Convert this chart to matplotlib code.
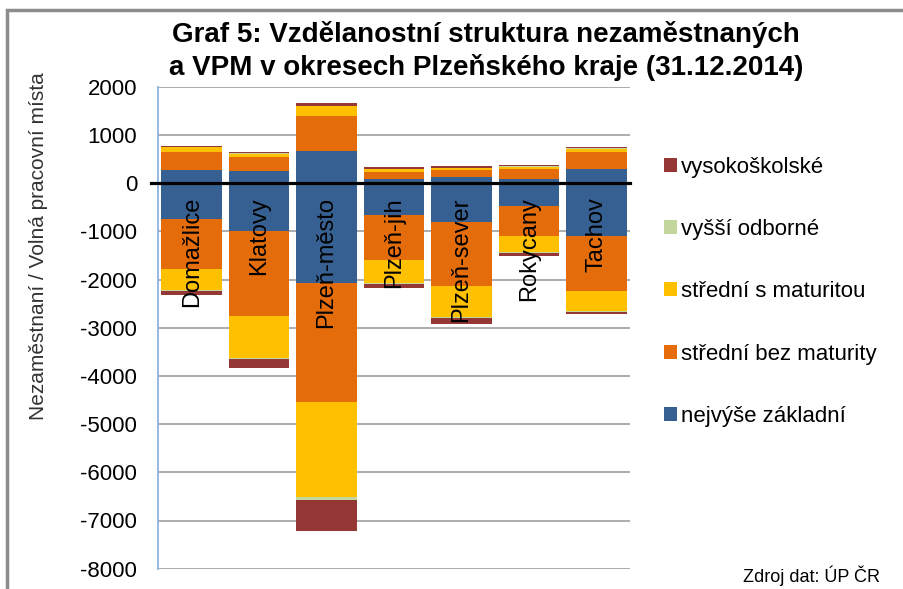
import numpy as np
import matplotlib
matplotlib.use('Agg')
import matplotlib.pyplot as plt
from matplotlib.patches import Rectangle, Patch

plt.rcParams['font.family'] = ['Liberation Sans', 'DejaVu Sans']

categories = ['Domažlice', 'Klatovy', 'Plzeň-město', 'Plzeň-jih', 'Plzeň-sever', 'Rokycany', 'Tachov']
levels = ['nejvýše základní', 'střední bez maturity', 'střední s maturitou', 'vyšší odborné', 'vysokoškolské']
colors = ['#376092', '#E46C0A', '#FFC000', '#C3D69B', '#953735']

# volná pracovní místa (kladné hodnoty)
vpm_zakladni = [276, 248, 674, 83, 117, 83, 296]
vpm_bez_mat = [378, 288, 715, 138, 159, 213, 343]
vpm_s_mat = [88, 76, 206, 68, 41, 48, 76]
vpm_vyssi = [5, 3, 10, 3, 3, 3, 3]
vpm_vs = [30, 39, 52, 38, 38, 31, 32]

# nezaměstnaní (vykresleno jako záporné hodnoty)
nez_zakladni = [755, 990, 2074, 652, 804, 467, 1093]
nez_bez_mat = [1031, 1773, 2462, 948, 1326, 626, 1140]
nez_s_mat = [426, 858, 1971, 474, 654, 343, 427]
nez_vyssi = [28, 20, 70, 10, 15, 8, 8]
nez_vs = [75, 186, 631, 93, 114, 74, 39]

yticks = list(range(-8000, 2001, 1000))

vpm = [vpm_zakladni, vpm_bez_mat, vpm_s_mat, vpm_vyssi, vpm_vs]
nez = [nez_zakladni, nez_bez_mat, nez_s_mat, nez_vyssi, nez_vs]

W, H = 904, 589
fig = plt.figure(figsize=(W / 100, H / 100), dpi=100)
ax = fig.add_axes([158 / W, 1 - 568.7 / H, 472 / W, (568.7 - 86.7) / H])

x = np.arange(len(categories))
pos_bottom = np.zeros(len(categories))
neg_bottom = np.zeros(len(categories))
for i in range(len(levels)):
    p = np.array(vpm[i], dtype=float)
    n = np.array(nez[i], dtype=float)
    ax.bar(x, p, 0.9, bottom=pos_bottom, color=colors[i], linewidth=0, zorder=2)
    ax.bar(x, -n, 0.9, bottom=-neg_bottom, color=colors[i], linewidth=0, zorder=2)
    pos_bottom += p
    neg_bottom += n

ax.set_xlim(-0.5, len(categories) - 0.5)
ax.set_ylim(-8000, 2000)
ax.set_yticks(yticks)
ax.set_yticklabels([str(t) for t in yticks], fontsize=16)
ax.tick_params(axis='y', length=0, pad=15)
ax.set_xticks([])
ax.yaxis.grid(True, color='#A6A6A6', linewidth=1.3, zorder=0)
ax.set_axisbelow(True)
for s in ['top', 'right', 'bottom']:
    ax.spines[s].set_visible(False)
ax.spines['left'].set_color('#8EB4E3')
ax.spines['left'].set_linewidth(1.3)

ax.axhline(0, xmin=-0.015, xmax=1, color='black', linewidth=2.3, zorder=3, clip_on=False)

for xi, name in zip(x, categories):
    ax.text(xi, -290, name, rotation=90, ha='center', va='top', fontsize=17, zorder=4)

ax.set_ylabel('Nezaměstnaní / Volná pracovní místa', fontsize=15, color='#333333')
ax.yaxis.set_label_coords(-(158 - 48) / 472, 0.67)

fig.text(486 / W, 1 - 51 / H, 'Graf 5: Vzdělanostní struktura nezaměstnaných\na VPM v okresech Plzeňského kraje (31.12.2014)',
         ha='center', va='center', fontsize=20, fontweight='bold', linespacing=1.25)

handles = [Patch(facecolor=colors[i], edgecolor='none') for i in range(len(levels))][::-1]
fig.legend(handles, levels[::-1], loc='center left', bbox_to_anchor=(664 / W, 1 - 291.7 / H),
           frameon=False, fontsize=16, handlelength=0.6, handleheight=0.6, handletextpad=0.15,
           labelspacing=1.86, borderpad=0, borderaxespad=0)

fig.text(880 / W, 1 - 576 / H, 'Zdroj dat: ÚP ČR', ha='right', va='center', fontsize=13)

fig.patches.append(Rectangle((7 / W, -0.1), 1.2, 1 - 10 / H + 0.1, transform=fig.transFigure,
                             fill=False, edgecolor='#8C8C8C', linewidth=2.5))

fig.savefig('out.png', dpi=100)
